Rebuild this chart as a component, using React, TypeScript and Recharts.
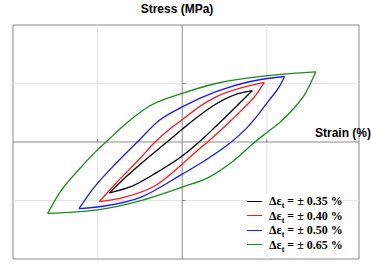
import React from "react";
import { LineChart, Line, XAxis, YAxis, ReferenceLine, ReferenceArea } from "recharts";

// hysteresis loops, [strain, stress] in grid units; each loop = loading (upper) + unloading (lower) branch, x ascending
const upper035: [number, number][] = [
  [-0.86, -0.87], [-0.66, -0.59], [-0.39, -0.25], [-0.18, 0], [0, 0.22], [0.2, 0.45], [0.4, 0.65], [0.67, 0.83], [0.83, 0.88],
];
const lower035: [number, number][] = [
  [-0.86, -0.87], [-0.6, -0.76], [-0.3, -0.52], [0, -0.24], [0.2, 0], [0.4, 0.27], [0.6, 0.55], [0.83, 0.88],
];
const upper040: [number, number][] = [
  [-0.98, -1.02], [-0.78, -0.7], [-0.51, -0.3], [-0.32, 0], [-0.15, 0.22], [0, 0.38], [0.2, 0.6], [0.4, 0.77], [0.79, 0.96], [0.97, 1.02],
];
const lower040: [number, number][] = [
  [-0.98, -1.02], [-0.7, -0.95], [-0.31, -0.74], [0, -0.38], [0.16, -0.17], [0.3, 0], [0.55, 0.33], [0.72, 0.57], [0.87, 0.8], [0.97, 1.02],
];
const upper050: [number, number][] = [
  [-1.22, -1.14], [-1.06, -0.81], [-0.82, -0.42], [-0.53, 0], [-0.27, 0.37], [0, 0.6], [0.4, 0.86], [0.79, 1.03], [1.21, 1.12],
];
const lower050: [number, number][] = [
  [-1.22, -1.14], [-0.9, -1.09], [-0.5, -0.95], [0, -0.55], [0.32, -0.27], [0.58, 0], [0.75, 0.22], [0.91, 0.49], [1.03, 0.72], [1.15, 0.95], [1.21, 1.12],
];
const upper065: [number, number][] = [
  [-1.59, -1.22], [-1.45, -0.87], [-1.22, -0.47], [-1.02, -0.16], [-0.9, 0], [-0.66, 0.32], [-0.39, 0.61], [0, 0.83], [0.4, 1.0], [0.99, 1.13], [1.58, 1.2],
];
const lower065: [number, number][] = [
  [-1.59, -1.22], [-1.0, -1.16], [-0.51, -1.01], [0, -0.77], [0.32, -0.6], [0.6, -0.33], [0.86, 0], [0.99, 0.15], [1.15, 0.33], [1.31, 0.56], [1.46, 0.84], [1.58, 1.2],
];

const labels = ["0.35", "0.40", "0.50", "0.65"];
const colors = ["#000000", "#ff1a1a", "#1a1aff", "#1e8a1e"];
const branches = [
  [upper035, lower035],
  [upper040, lower040],
  [upper050, lower050],
  [upper065, lower065],
];

const gridX = [-1, 1];
const gridY = [-1, 1];

export default function App() {
  return (
    <div style={{ position: "absolute", left: 0, top: 0, width: 371, height: 264, background: "#fff" }}>
      <div style={{ position: "absolute", left: 0, width: 354, top: 2, textAlign: "center", fontFamily: "Liberation Sans", fontWeight: "bold", fontSize: 12 }}>
        Stress (MPa)
      </div>
      <LineChart width={371} height={264} margin={{ top: 25, right: 12, bottom: 5, left: 13 }}>
        <XAxis dataKey="x" type="number" domain={[-2, 2.09]} hide allowDataOverflow />
        <YAxis dataKey="y" type="number" domain={[-2, 2]} hide allowDataOverflow />
        {gridX.map((v) => (
          <ReferenceLine key={"x" + v} x={v} stroke="#e3e3e3" strokeWidth={1} />
        ))}
        {gridY.map((v) => (
          <ReferenceLine key={"y" + v} y={v} stroke="#e3e3e3" strokeWidth={1} />
        ))}
        <ReferenceLine x={0} stroke="#8a8a8a" strokeWidth={1} />
        <ReferenceLine y={0} stroke="#8a8a8a" strokeWidth={1} />
        {gridY.map((v) => (
          <ReferenceLine key={"ty" + v} segment={[{ x: 0, y: v }, { x: 0.04, y: v }]} stroke="#8a8a8a" />
        ))}
        {gridX.map((v) => (
          <ReferenceLine key={"tx" + v} segment={[{ x: v, y: 0 }, { x: v, y: 0.05 }]} stroke="#8a8a8a" />
        ))}
        <ReferenceArea x1={-2} x2={2.09} y1={-2} y2={2} fill="none" stroke="#8a8a8a" strokeWidth={1} />
        {branches.map((pair, i) =>
          pair.map((branch, j) => (
            <Line
              key={labels[i] + "-" + j}
              data={branch.map(([x, y]) => ({ x, y }))}
              dataKey="y"
              type="monotone"
              stroke={colors[i]}
              strokeWidth={1.3}
              dot={false}
              activeDot={false}
              isAnimationActive={false}
            />
          ))
        )}
      </LineChart>
      <div style={{ position: "absolute", left: 315, top: 126, fontFamily: "Liberation Sans", fontWeight: "bold", fontSize: 12 }}>
        Strain (%)
      </div>
      <div style={{ position: "absolute", left: 247, top: 194, fontFamily: "Liberation Serif", fontWeight: "bold", fontSize: 12, lineHeight: "14.5px", background: "#fff" }}>
        {labels.map((l, i) => (
          <div key={l} style={{ display: "flex", alignItems: "center", whiteSpace: "nowrap" }}>
            <span style={{ display: "inline-block", width: 15, height: 0, borderTop: `1.5px solid ${colors[i]}`, marginRight: 7 }} />
            <span>
              Δε<sub style={{ fontSize: 8, verticalAlign: -3, lineHeight: 0 }}>t</sub> = ± {l} %
            </span>
          </div>
        ))}
      </div>
    </div>
  );
}
